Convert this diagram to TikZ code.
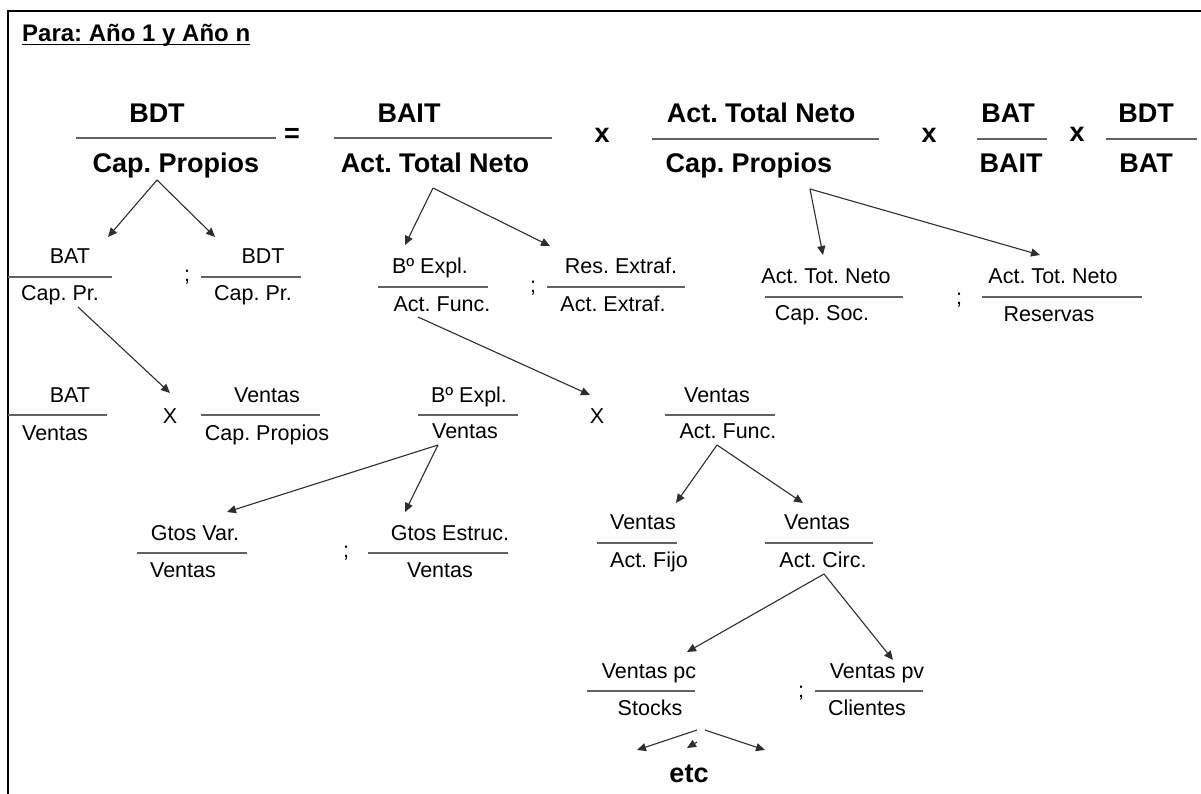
\documentclass[tikz,border=0pt]{standalone}
\usepackage{fontspec}
\setmainfont{Liberation Sans}
\usetikzlibrary{arrows.meta}
\frenchspacing
\begin{document}
\begin{tikzpicture}[x=1pt,y=-1pt,
  big/.style={font=\bfseries\fontsize{27}{30}\selectfont, anchor=base, inner sep=0pt},
  small/.style={font=\fontsize{21.5}{24}\selectfont, anchor=base, inner sep=0pt},
  ttl/.style={font=\bfseries\fontsize{24}{28}\selectfont, anchor=base west, inner sep=0pt},
  bar/.style={draw=black!62, line width=1.8pt},
  arr/.style={-{Triangle[length=9pt,width=8pt]}, line width=1.1pt, draw=black!82},
  frame/.style={draw=black, line width=2.6pt}]
\useasboundingbox[fill=white] (0,0) rectangle (1201,794);

% outer frame (top and left edges)
\draw[frame] (1201,11) -- (8,11) -- (8,794);

% heading
\node[ttl] (title) at (22,42) {Para: Año 1 y Año n};
\draw[line width=1.4pt] ([yshift=-2.8pt]title.base west) -- ([yshift=-2.8pt]title.base east);

% ---- main identity ----
\node[big] (t1n) at (157,123) {BDT};
\node[big] (t1d) at (176,173) {Cap. Propios};
\draw[bar] (76,138) -- (276,138);
\node[big] (eq) at (292,143) {=};
\node[big] (t2n) at (409,123) {BAIT};
\node[big] (t2d) at (435,173) {Act. Total Neto};
\draw[bar] (334,138) -- (552,138);
\node[big] (x1) at (602,143) {x};
\node[big] (t3n) at (761,123) {Act. Total Neto};
\node[big] (t3d) at (749,173) {Cap. Propios};
\draw[bar] (652,139) -- (879,139);
\node[big] (x2) at (929,143) {x};
\node[big] (t4n) at (1008,123) {BAT};
\node[big] (t4d) at (1011,173) {BAIT};
\draw[bar] (977,139) -- (1047,139);
\node[big] (x3) at (1077,142) {x};
\node[big] (t5n) at (1146,123) {BDT};
\node[big] (t5d) at (1146,173) {BAT};
\draw[bar] (1106,139) -- (1197,139);

% ---- left branch ----
\node[small] (a1n) at (70,263) {BAT};
\node[small] (a1d) at (60,300) {Cap. Pr.};
\draw[bar] (8,277) -- (112,277);
\node[small] (s1) at (187,281) {;};
\node[small] (a2n) at (263,263) {BDT};
\node[small] (a2d) at (253,300) {Cap. Pr.};
\draw[bar] (201,277) -- (301,277);
\draw[arr] ([xshift=-19pt,yshift=-7pt]t1d.base) -- ([xshift=38pt,yshift=26pt]a1n.base);
\draw[arr] ([xshift=-19pt,yshift=-7pt]t1d.base) -- ([xshift=-48pt,yshift=26pt]a2n.base);

\node[small] (b1n) at (70,402) {BAT};
\node[small] (b1d) at (55,440) {Ventas};
\draw[bar] (8,415) -- (107,415);
\node[small] (X1) at (170,423) {X};
\node[small] (b2n) at (267,402) {Ventas};
\node[small] (b2d) at (267,440) {Cap. Propios};
\draw[bar] (201,415) -- (320,415);
\draw[arr] ([xshift=18pt,yshift=-7pt]a1d.base) -- ([yshift=30pt]X1.base);

% ---- middle branch ----
\node[small] (c1n) at (430,273) {Bº Expl.};
\node[small] (c1d) at (442,311) {Act. Func.};
\draw[bar] (378,287) -- (488,287);
\node[small] (s2) at (533,292) {;};
\node[small] (c2n) at (621,273) {Res. Extraf.};
\node[small] (c2d) at (613,311) {Act. Extraf.};
\draw[bar] (547,287) -- (685,287);
\draw[arr] ([xshift=-2pt,yshift=-15pt]t2d.base) -- ([xshift=-25pt,yshift=28pt]c1n.base);
\draw[arr] ([xshift=-2pt,yshift=-15pt]t2d.base) -- ([xshift=-71pt,yshift=27pt]c2n.base);

\node[small] (d1n) at (469,402) {Bº Expl.};
\node[small] (d1d) at (465,438) {Ventas};
\draw[bar] (418,415) -- (518,415);
\node[small] (X2) at (597,423) {X};
\node[small] (d2n) at (717,402) {Ventas};
\node[small] (d2d) at (728,438) {Act. Func.};
\draw[bar] (665,415) -- (775,415);
\draw[arr] ([xshift=-24pt,yshift=-6pt]c1d.base) -- ([xshift=-7pt,yshift=28pt]X2.base);

% ---- right branch ----
\node[small] (e1n) at (826,283) {Act. Tot. Neto};
\node[small] (e1d) at (822,320) {Cap. Soc.};
\draw[bar] (765,297) -- (903,297);
\node[small] (s3) at (959,304) {;};
\node[small] (e2n) at (1053,283) {Act. Tot. Neto};
\node[small] (e2d) at (1049,321) {Reservas};
\draw[bar] (982,297) -- (1142,297);
\draw[arr] ([xshift=61pt,yshift=-16pt]t3d.base) -- ([xshift=-3pt,yshift=28pt]e1n.base);
\draw[arr] ([xshift=61pt,yshift=-16pt]t3d.base) -- ([xshift=-13pt,yshift=28pt]e2n.base);

% ---- operating margin split ----
\node[small] (f1n) at (195,540) {Gtos Var.};
\node[small] (f1d) at (183,577) {Ventas};
\draw[bar] (137,553) -- (247,553);
\node[small] (s4) at (346,557) {;};
\node[small] (f2n) at (450,540) {Gtos Estruc.};
\node[small] (f2d) at (440,577) {Ventas};
\draw[bar] (368,553) -- (508,553);
\draw[arr] ([xshift=-27pt,yshift=-7pt]d1d.base) -- ([xshift=32pt,yshift=28pt]f1n.base);
\draw[arr] ([xshift=-27pt,yshift=-7pt]d1d.base) -- ([xshift=-45pt,yshift=28pt]f2n.base);

% ---- asset turnover split ----
\node[small] (g1n) at (643,529) {Ventas};
\node[small] (g1d) at (649,567) {Act. Fijo};
\draw[bar] (597,543) -- (677,543);
\node[small] (g2n) at (817,529) {Ventas};
\node[small] (g2d) at (823,567) {Act. Circ.};
\draw[bar] (765,543) -- (873,543);
\draw[arr] ([xshift=-11pt,yshift=-7pt]d2d.base) -- ([xshift=33pt,yshift=26pt]g1n.base);
\draw[arr] ([xshift=-11pt,yshift=-7pt]d2d.base) -- ([xshift=-14pt,yshift=26pt]g2n.base);

\node[small] (h1n) at (649,678) {Ventas pc};
\node[small] (h1d) at (650,715) {Stocks};
\draw[bar] (587,691) -- (695,691);
\node[small] (s5) at (801,697) {;};
\node[small] (h2n) at (877,678) {Ventas pv};
\node[small] (h2d) at (867,715) {Clientes};
\draw[bar] (815,691) -- (923,691);
\draw[arr] ([xshift=1pt,yshift=-7pt]g2d.base) -- ([xshift=38pt,yshift=26pt]h1n.base);
\draw[arr] ([xshift=1pt,yshift=-7pt]g2d.base) -- ([xshift=16pt,yshift=18pt]h2n.base);

% ---- further breakdown ----
\node[big] (etc) at (689,782) {etc};
\draw[arr] ([xshift=47pt,yshift=-15pt]h1d.base) -- ([xshift=-52pt,yshift=32pt]etc.base);
\draw[arr] ([xshift=47pt,yshift=-27pt]h1d.base) -- ([xshift=-2pt,yshift=34pt]etc.base);
\draw[arr] ([xshift=55pt,yshift=-15pt]h1d.base) -- ([xshift=76pt,yshift=32pt]etc.base);
\end{tikzpicture}
\end{document}
